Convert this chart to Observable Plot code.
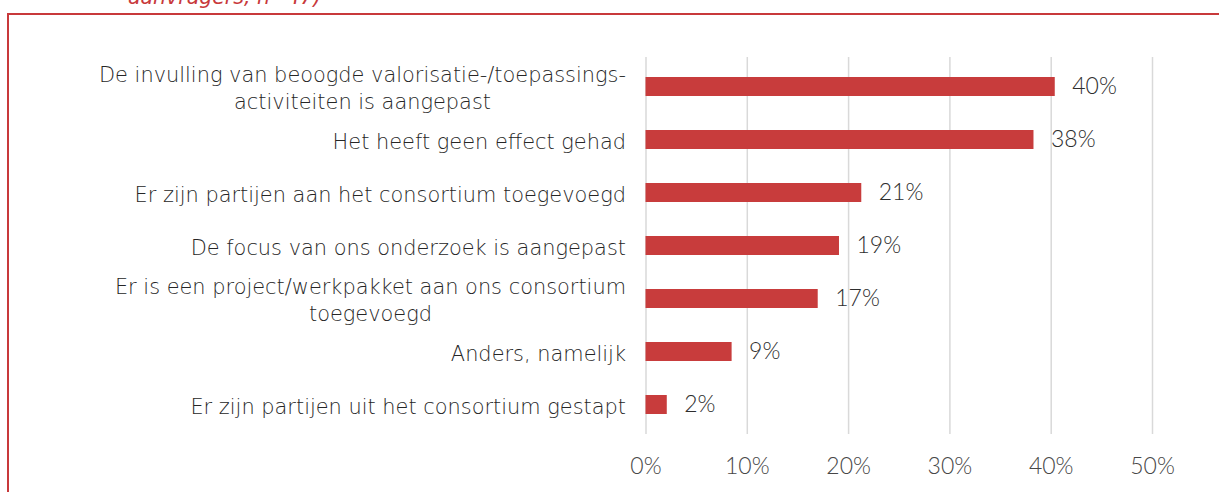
<!DOCTYPE html>
<html>
<head>
<meta charset="utf-8">
<script src="https://cdn.jsdelivr.net/npm/d3@7"></script>
<script src="https://cdn.jsdelivr.net/npm/@observablehq/plot@0.6"></script>
<style>
  body { margin: 0; background: #fff; }
  #wrap { position: relative; width: 1219px; height: 492px; overflow: hidden; background: #fff; }
  #title { position: absolute; left: 128px; top: -13.5px; font-family: "DejaVu Sans", sans-serif; font-weight: 200;
           font-style: italic; font-size: 20.5px; line-height: 1; color: #c8393b; white-space: nowrap; }
  #frame { position: absolute; left: 7px; top: 13px; width: 1300px; height: 600px; border: 2px solid #c8393b; }
  #chart { position: absolute; left: 0; top: 0; }
  .cat text { font-weight: 200; }
  .num text, .num { font-weight: 300; }
</style>
</head>
<body>
<div id="wrap">
  <div id="title">aanvragers, n=47)</div>
  <div id="frame"></div>
  <div id="chart"></div>
</div>
<script>
const categories = [
  "De invulling van beoogde valorisatie-/toepassings-\nactiviteiten is aangepast",
  "Het heeft geen effect gehad",
  "Er zijn partijen aan het consortium toegevoegd",
  "De focus van ons onderzoek is aangepast",
  "Er is een project/werkpakket aan ons consortium\ntoegevoegd",
  "Anders, namelijk",
  "Er zijn partijen uit het consortium gestapt"
];
const values = [0.404, 0.383, 0.213, 0.191, 0.170, 0.085, 0.021];
const valueLabels = ["40%", "38%", "21%", "19%", "17%", "9%", "2%"];
const xTicks = [0, 0.1, 0.2, 0.3, 0.4, 0.5];
const xTickLabels = ["0%", "10%", "20%", "30%", "40%", "50%"];

const data = categories.map((c, i) => ({category: c, value: values[i], label: valueLabels[i]}));

const plot = Plot.plot({
  width: 1219,
  height: 492,
  marginLeft: 645.5,
  marginRight: 67,
  marginTop: 57,
  marginBottom: 58,
  style: {fontFamily: 'Lato, sans-serif', background: "transparent"},
  x: {domain: [0, 0.5]},
  y: {domain: categories, paddingInner: 0.647, paddingOuter: 0.3235},
  marks: [
    Plot.gridX(xTicks, {stroke: "#d9d9d9", strokeOpacity: 1, strokeWidth: 1.5}),
    Plot.barX(data, {x: "value", y: "category", fill: "#c83c3c"}),
    Plot.text(data, {x: "value", y: "category", text: "label", textAnchor: "start", dx: 17,
                     fontSize: 23, fill: "#2e2e2e", className: "num"}),
    Plot.axisY({tickSize: 0, tickPadding: 20, fontSize: 20.9, color: "#262626", label: null,
                lineHeight: 1.29, fontFamily: '"DejaVu Sans", sans-serif', className: "cat"}),
    Plot.axisX({ticks: xTicks, tickFormat: d => xTickLabels[xTicks.indexOf(d)], tickSize: 0,
                tickPadding: 23.5, fontSize: 23, color: "#474747", label: null, className: "num"})
  ]
});
document.getElementById("chart").appendChild(plot);

// Center the lines of multi-line category labels within their right-aligned block
plot.querySelectorAll('g[aria-label="y-axis tick label"] text').forEach(t => {
  const spans = Array.from(t.querySelectorAll("tspan"));
  if (spans.length < 2) return;
  const lens = spans.map(s => s.getComputedTextLength());
  const W = Math.max(...lens);
  spans.forEach((s, i) => {
    const x0 = parseFloat(s.getAttribute("x") || "0");
    s.setAttribute("x", x0 - (W - lens[i]) / 2);
  });
});
</script>
</body>
</html>
